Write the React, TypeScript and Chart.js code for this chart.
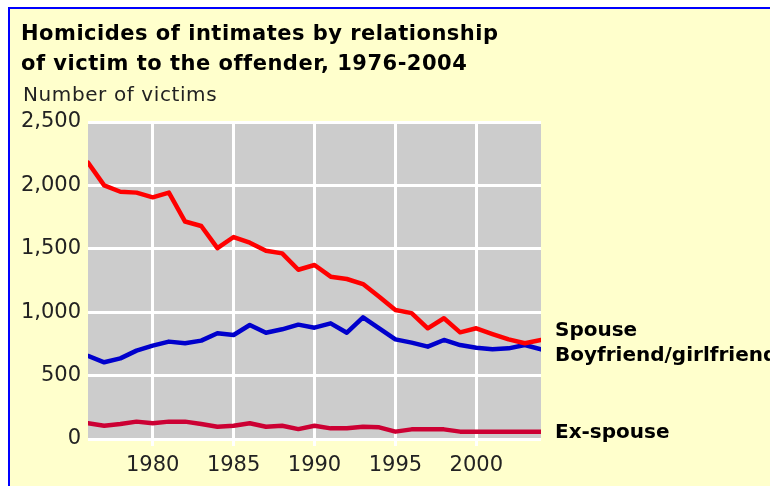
import React, { useEffect, useRef } from 'react';
import { Chart, registerables } from 'chart.js';

Chart.register(...registerables);

const years = [1976, 1977, 1978, 1979, 1980, 1981, 1982, 1983, 1984, 1985, 1986, 1987, 1988, 1989, 1990, 1991, 1992, 1993, 1994, 1995, 1996, 1997, 1998, 1999, 2000, 2001, 2002, 2003, 2004];
const spouse = [2180, 2000, 1950, 1943, 1906, 1943, 1715, 1680, 1505, 1593, 1548, 1485, 1464, 1335, 1372, 1280, 1262, 1222, 1122, 1017, 993, 873, 952, 841, 873, 828, 786, 755, 781];
const boyGirl = [655, 605, 636, 697, 736, 768, 755, 776, 834, 820, 899, 838, 865, 902, 878, 912, 838, 960, 873, 786, 760, 728, 781, 741, 720, 707, 715, 741, 707];
const exSpouse = [124, 105, 118, 137, 124, 137, 137, 118, 97, 105, 124, 97, 105, 78, 105, 84, 84, 97, 92, 58, 76, 76, 76, 58, 58, 58, 58, 58, 58];

const seriesNames = ['Spouse', 'Boyfriend/girlfriend', 'Ex-spouse'];
const seriesColors = ['#ff0000', '#0000cc', '#cc0033'];
const seriesValues = [spouse, boyGirl, exSpouse];

const xTickValues = [1980, 1985, 1990, 1995, 2000];
const yMin = 0;
const yMax = 2500;
const yStep = 500;

const titleLines = ['Homicides of intimates by relationship', 'of victim to the offender, 1976-2004'];
const yAxisTitle = 'Number of victims';

const FONT = '"DejaVu Sans", Verdana, sans-serif';

const plotBg = {
  id: 'plotBg',
  beforeDraw(chart: any) {
    const { ctx, chartArea } = chart;
    ctx.save();
    ctx.fillStyle = '#cccccc';
    ctx.fillRect(chartArea.left, chartArea.top, chartArea.right - chartArea.left, chartArea.bottom - chartArea.top);
    ctx.restore();
  },
};

const texts = {
  id: 'texts',
  afterDraw(chart: any) {
    const { ctx, chartArea, scales } = chart;
    ctx.save();
    ctx.fillStyle = '#000000';
    ctx.textAlign = 'left';
    ctx.textBaseline = 'alphabetic';
    ctx.font = `bold 21px ${FONT}`;
    try { (ctx as any).letterSpacing = '0.5px'; } catch (e) {}
    ctx.fillText(titleLines[0], 11, 31);
    ctx.fillText(titleLines[1], 11, 61);
    ctx.font = `20px ${FONT}`;
    ctx.fillStyle = '#222222';
    try { (ctx as any).letterSpacing = '0.6px'; } catch (e) {}
    ctx.fillText(yAxisTitle, 13, 92);
    try { (ctx as any).letterSpacing = '0px'; } catch (e) {}

    // end-of-line labels
    const ys = seriesValues.map((arr) => scales.y.getPixelForValue(arr[arr.length - 1]));
    const minGap = 25;
    if (Math.abs(ys[0] - ys[1]) < minGap) {
      const mid = (ys[0] + ys[1]) / 2 - 1;
      ys[0] = mid - minGap / 2;
      ys[1] = mid + minGap / 2;
    }
    ctx.font = `bold 20px ${FONT}`;
    ctx.fillStyle = '#000000';
    ctx.textBaseline = 'middle';
    seriesNames.forEach((n, i) => {
      ctx.fillText(n, chartArea.right + 14, ys[i] + (i === 2 ? 1 : 0));
    });
    ctx.restore();
  },
};

export default function App() {
  const ref = useRef<HTMLCanvasElement>(null);
  useEffect(() => {
    if (!ref.current) return;
    const chart = new Chart(ref.current, {
      type: 'line',
      data: {
        datasets: seriesNames.map((name, i) => ({
          label: name,
          data: years.map((yr, j) => ({ x: yr, y: seriesValues[i][j] })),
          borderColor: seriesColors[i],
          backgroundColor: seriesColors[i],
          borderWidth: 4.5,
          pointRadius: 0,
          tension: 0,
          fill: false,
          borderJoinStyle: 'round' as const,
          borderCapStyle: 'round' as const,
        })),
      },
      options: {
        responsive: false,
        animation: false,
        events: [],
        layout: { padding: { top: 113, right: 229, bottom: 0, left: 0 } },
        plugins: {
          legend: { display: false },
          title: { display: false },
          tooltip: { enabled: false },
        },
        scales: {
          x: {
            type: 'linear',
            min: years[0],
            max: years[years.length - 1],
            afterBuildTicks: (s: any) => {
              s.ticks = xTickValues.map((v) => ({ value: v }));
            },
            afterFit: (s: any) => {
              s.height = 47;
            },
            grid: {
              color: '#ffffff',
              lineWidth: 3,
              drawTicks: true,
              tickLength: 7,
              tickColor: '#ffffff',
              tickWidth: 3,
            },
            border: { display: false },
            ticks: {
              color: '#222222',
              font: { family: FONT, size: 21 },
              padding: 7,
              maxRotation: 0,
              callback: (v: any) => String(v),
            },
          },
          y: {
            type: 'linear',
            min: yMin,
            max: yMax,
            afterFit: (s: any) => {
              s.width = 78;
            },
            grid: {
              color: '#ffffff',
              lineWidth: 3,
              drawTicks: false,
            },
            border: { display: false },
            ticks: {
              stepSize: yStep,
              color: '#222222',
              font: { family: FONT, size: 21 },
              padding: 7,
              callback: (v: any) => Number(v).toLocaleString('en-US'),
            },
          },
        },
      },
      plugins: [plotBg, texts],
    });
    return () => chart.destroy();
  }, []);

  return (
    <div
      style={{
        position: 'absolute',
        left: 8,
        top: 7,
        width: 762,
        height: 479,
        boxSizing: 'border-box',
        borderLeft: '2px solid #0000ff',
        borderTop: '2px solid #0000ff',
        background: '#ffffcc',
        overflow: 'hidden',
      }}
    >
      <canvas ref={ref} width={760} height={477} style={{ display: 'block', width: 760, height: 477 }} />
    </div>
  );
}
